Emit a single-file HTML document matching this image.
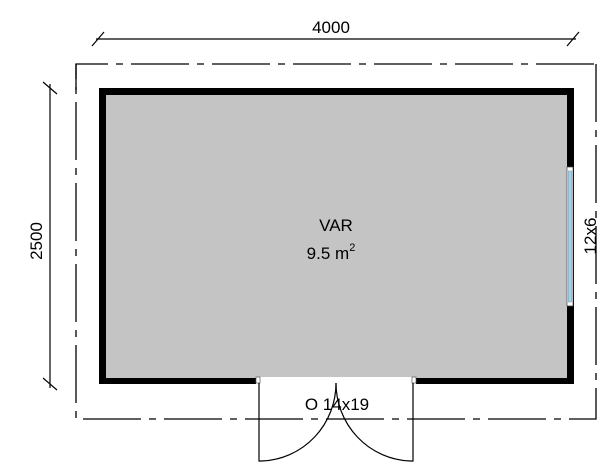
<!DOCTYPE html>
<html><head><style>body{margin:0;background:#fff}svg{display:block}</style></head><body>
<svg width="612" height="469" viewBox="0 0 612 469" xmlns="http://www.w3.org/2000/svg" font-family="Liberation Sans, sans-serif">
<rect x="0" y="0" width="612" height="469" fill="#fff"/>
<g stroke="#000" stroke-width="1.3" fill="none" stroke-dasharray="58 8 7 8">
<path d="M76 90 L76 64 L596 64"/>
<path d="M596 64 L596 419 L76 419 L76 64"/>
</g>
<rect x="99" y="88" width="475" height="296" fill="#000"/>
<rect x="106" y="95" width="461" height="283" fill="#c4c4c4"/>
<rect x="256" y="377" width="160" height="8" fill="#fff"/>
<rect x="256" y="377" width="4" height="6" fill="#fff" stroke="#555" stroke-width="0.7"/>
<rect x="412" y="377" width="4" height="6" fill="#fff" stroke="#555" stroke-width="0.7"/>
<g stroke="#000" stroke-width="1.2" fill="none">
<path d="M259 383 L259 461 L262 461"/>
<path d="M262 461 A77 78 0 0 0 336 383"/>
<path d="M413 383 L413 461 L410 461"/>
<path d="M410 461 A77 78 0 0 1 336 383"/>
</g>
<rect x="567" y="167" width="6" height="139" fill="#fff" stroke="#444" stroke-width="0.7"/>
<rect x="568.5" y="171" width="3" height="131" fill="#9fd4ee" stroke="#5a8aa0" stroke-width="0.5"/>
<g stroke="#000" stroke-width="1.2">
<line x1="96" y1="39" x2="576" y2="39"/>
<line x1="92" y1="46" x2="104" y2="32"/>
<line x1="567" y1="46" x2="579" y2="32"/>
<line x1="50" y1="84" x2="50" y2="388"/>
<line x1="43" y1="82" x2="57" y2="94"/>
<line x1="43" y1="378" x2="57" y2="390"/>
</g>
<g font-size="17" fill="#000" text-anchor="middle">
<text x="331" y="33">4000</text>
<text x="0" y="0" transform="translate(42 241) rotate(-90)">2500</text>
<text x="0" y="0" transform="translate(596 236) rotate(-90)">12x6</text>
<text x="336" y="231">VAR</text>
<text x="331" y="259">9.5 m<tspan font-size="11" dy="-8">2</tspan></text>
<text x="337" y="410">O 14x19</text>
</g>
</svg>
</body></html>
